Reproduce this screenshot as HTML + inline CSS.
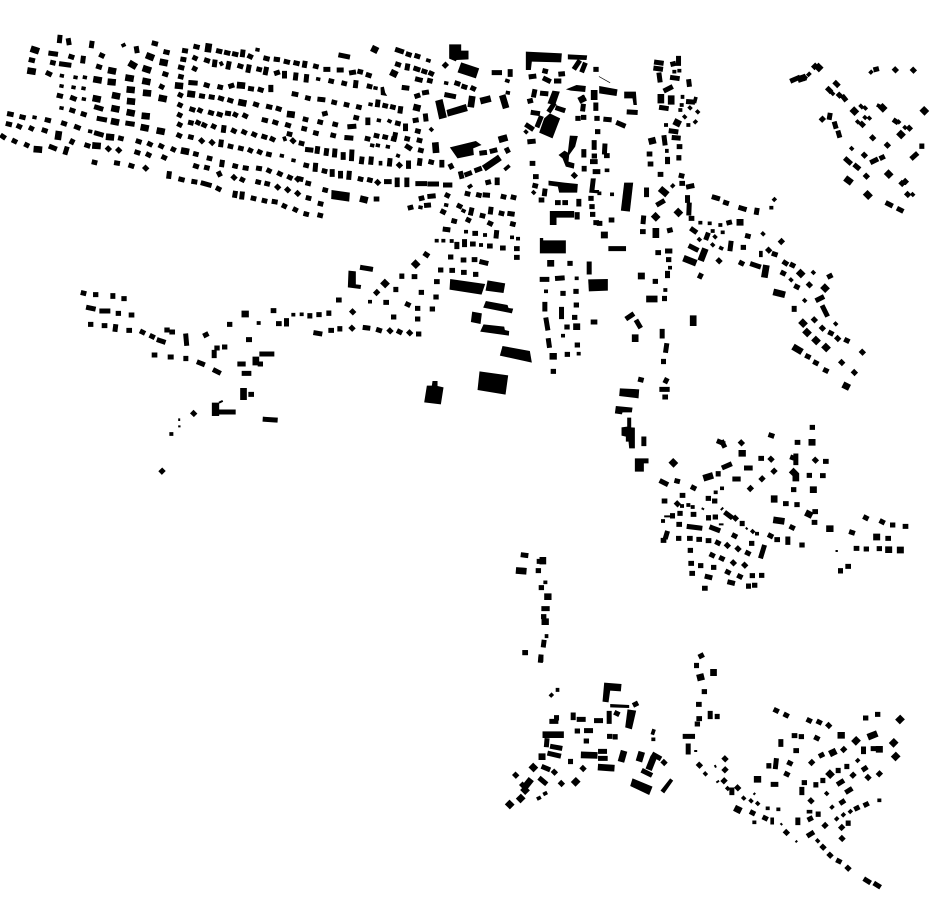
<!DOCTYPE html>
<html><head><meta charset="utf-8"><title>Figure-ground map</title>
<style>
html,body{margin:0;padding:0;background:#fff}
svg{display:block}
path{fill:none;stroke:#000;stroke-linecap:square}
.t{stroke-width:6}.s{stroke-width:11}.m{stroke-width:15}.b{stroke-width:20}
polygon{fill:#000}
</style></head><body>
<svg width="930" height="924" viewBox="0 0 930 924" xmlns="http://www.w3.org/2000/svg">
<g transform="translate(-.8 30) scale(.3333)">
<path class="s" d="M774 59l2 .4M105 262l2 .4M272 304l2 .4M372 46l2 -1M666 100l1 2M228 142l2 .4M256 142l2 .4M222 172l2 .4M252 175l2 .4M253 207l2 .4M186 234l2 .4M186 168l2 .4M187 137l2 .4M847 377l2 .4M882 391l2 .4M856 325l1 3"/>
<path class="m" d="M208 32l1 6M182 22l-1 10M278 40l-1 7M412 56l1 6M465 40l4 1M500 66l4 1M556 62l3 .5M590 50l4 1M658 63l4 1M682 68l4 1M706 72l4 1M731 66l-1 8M752 79l2 1M800 85l4 1M831 88l4 .5M861 95l4 1M890 99l4 1M155 70l14 2M215 80l3 1M252 85l-1 8M307 76l2 1M96 90l4 1M160 98l2 .5M187 102l22 3M298 110l3 1M497 132l3 1M544 112l4 1M551 88l3 .5M587 84l1 .5M586 116l1 .5M622 91l3 1M647 96l-1 8M689 101l-2 10M722 108l3 1M749 111l-2 10M779 118l2 .5M801 118l-2 10M832 129l3 -1M856 130l0 8M890 135l-1 9M147 130l4 2M544 140l2 .5M487 170l1 .5M575 158l13 1M621 165l3 1M662 171l2 .5M695 168l3 -1M754 176l3 .5M783 179l3 1M815 172l0 7M885 192l5 1M180 197l4 1M220 204l5 2M543 195l1 .5M607 198l3 .5M636 201l3 .5M664 205l3 1M692 211l3 1M769 223l3 1M808 230l4 1M837 236l3 1M218 241l3 1M252 252l3 1M292 232l13 4M542 225l1 .5M578 238l3 1M602 241l1 .5M634 248l3 1M660 253l3 1M685 250l3 .5M708 254l1 .5M737 257l2 1M795 270l4 1M827 277l3 1M865 285l3 1M31 252l5 1M68 261l4 1M144 270l4 1M193 280l3 1M232 291l5 2M300 266l16 3M386 280l13 2M541 255l1 .5M541 284l1 .5M574 278l2 .5M596 278l1 .5M614 285l2 1M643 289l1 .5M674 293l-1 8M703 302l2 1M734 306l2 1M764 313l2 1M794 320l3 1M819 327l2 1M870 312l2 .5M881 332l1 1M27 282l4 1M59 289l2 1M96 295l1 .5M135 301l3 1M292 310l14 4M364 325l2 .5M417 334l3 1M451 342l2 1M485 348l2 1M522 358l1 .5M589 372l2 .5M630 385l2 .5M539 316l2 1M574 321l2 .5M607 332l1 1M638 337l1 1M666 336l-1 8M693 349l2 .5M724 355l2 .5M753 361l1 .5M781 366l1 .5M808 373l2 .5M10 319l3 2M45 333l2 1M82 345l1 .5M156 351l10 4M202 357l-3 10M219 334l-1 2M263 346l3 1M327 356l1 1M358 360l1 1M413 367l3 1M447 374l2 1M494 382l2 1M589 408l3 1M622 413l2 .5M669 397l-1 7M707 408l2 .5M738 414l3 .5M778 415l3 .5M809 422l1 .5M841 431l2 1M871 442l2 1M895 447l1 1M285 397l2 .5M352 399l3 .5M395 407l3 1M439 414l1 1M510 431l-1 8M545 448l4 1M584 455l3 .5M612 460l18 5M657 476l2 1M660 431l1 2M704 442l1 1M729 449l1 .5M776 456l2 .5M803 461l2 .5M835 471l1 1M865 479l1 1M895 490l1 1M708 490l-1 6M729 492l-1 9M762 505l2 .5M795 512l2 .5M825 515l3 .5M855 528l1 .5M888 539l1 .5"/>
<path class="b" d="M104 59l6 2M628 50l-1 7M398 103l5 3M440 117l6 2M450 79l5 2M94 123l6 1M292 149l6 1M335 156l5 .5M388 144l6 1M439 154l5 1M537 167l5 .5M723 166l5 .5M290 206l5 1M348 197l5 1M392 179l5 .5M441 189l5 .5M393 214l5 .5M488 205l5 1M574 192l4 .5M727 218l5 1M873 253l4 .5M346 236l5 1M392 248l5 1M437 258l5 .5M345 275l5 1M434 293l5 1M482 303l5 1M330 321l5 .5M555 363l5 1M113 358l6 .5M178 313l-1 7M289 347l6 .5M336 122l5 1M491 97l5 1"/>
</g>
<g transform="translate(299.2 30) scale(.3333)">
<polygon points="450,43 486,43 486,62 508,62 508,88 472,90 470,94 450,86"/>
<polygon points="486,97 540,115 530,145 475,127"/>
<polygon points="408,213 430,207 443,262 420,268"/>
<polygon points="442,240 500,222 506,243 446,260"/>
<polygon points="452,352 530,333 547,345 522,355 524,375 475,385"/>
<polygon points="680,65 788,70 786,97 698,95 695,120 680,120"/>
<polygon points="806,73 864,76 862,90 806,88"/>
<polygon points="735,265 752,250 783,265 760,325 720,308"/>
<polygon points="752,543 825,543 825,563 772,563 772,585 752,585"/>
<polygon points="748,452 795,458 836,462 834,488 780,488 776,470 748,466"/>
<polygon points="800,178 832,165 860,168 858,186 815,182"/>
<polygon points="760,182 782,185 768,225 745,220"/>
<polygon points="812,317 836,318 828,350 810,375 808,395 826,400 824,416 800,410 790,385 778,375 796,362 806,368"/>
<polygon points="97,480 152,488 150,515 96,507"/>
<polygon points="244,172 254,170 258,188 264,198 245,195"/>
<polygon points="875,445 890,445 886,480 900,480 898,490 870,488"/>
<path class="s" d="M386 91l3 1M440 159l2 .4M396 298l1 1M228 174l2 .4M238 271l2 .4M270 273l2 1M218 346l2 .4M235 346l2 .4M265 350l2 .4M296 377l1 .4M56 147l2 .4M213 223l2 .4M511 470l3 -2M363 532l2 .4M440 525l2 .4M492 542l2 1M703 487l1 1M244 398l0 3M623 152l3 1M625 188l2 .4M680 305l1 1M627 410l-7 6"/>
<path class="m" d="M125 76l20 4M295 60l12 4M327 73l3 1M353 78l3 1M295 103l3 1M325 108l-1 6M350 116l6 2M374 124l3 1M395 130l2 1M355 148l8 2M391 152l2 .5M315 173l8 1M439 105l-1 1M473 160l3 1M494 170l3 1M521 175l2 1M443 195l20 4M376 188l6 -1M353 198l3 -1M348 271l3 -.5M379 258l1 9M355 303l2 .5M319 288l0 8M323 326l2 .5M360 331l2 .5M325 350l6 4M364 361l2 .5M362 392l-1 8M395 396l2 .5M428 397l0 8M455 408l1 2M624 360l1 2M548 369l8 -1M579 363l8 -2M533 420l8 -3M503 433l8 -3M485 431l2 8M566 457l2 -.5M594 450l0 8M504 491l2 .5M538 495l2 .5M558 495l7 .5M612 500l2 .5M642 502l2 .5M356 461l20 0M392 462l20 0M439 465l13 0M444 496l1 .5M392 499l10 -1M366 505l2 -.5M382 526l6 -.5M333 533l2 -.5M480 528l2 1M517 540l-2 9M549 557l2 .5M575 538l-1 8M606 550l2 .5M632 551l7 1M431 545l2 1M464 573l2 .5M507 570l1 .5M572 580l2 1M640 582l2 .5M585 128l16 0M633 125l0 8M17 100l-1 6M49 109l2 .5M80 118l6 0M120 120l6 0M157 128l6 -1M182 125l2 .5M207 135l3 1M22 140l-1 10M95 153l2 .5M134 160l2 .5M170 158l-1 9M210 169l2 .5M25 204l2 .5M62 208l9 1M104 217l2 .5M141 224l2 .5M178 231l2 .5M236 216l-1 8M257 227l2 .5M280 231l2 .5M304 236l-1 7M76 251l2 -.5M18 268l2 .5M62 276l2 .5M107 283l2 .5M170 263l2 .5M152 290l12 -1M206 270l0 8M295 280l2 .5M14 296l2 .5M49 309l2 .5M101 316l2 .5M143 323l12 1M204 326l2 .5M231 317l2 .5M257 321l2 .5M283 327l2 .5M288 314l-1 5M6 340l2 .5M25 359l10 1M55 356l-1 8M82 362l-1 8M107 363l-1 12M132 374l0 8M158 366l-1 20M188 387l-1 8M216 387l-1 10M272 392l-1 10M300 405l1 1M328 399l0 10M20 406l2 .5M49 406l-1 12M75 423l2 .5M99 425l0 8M124 430l0 8M150 430l-1 12M183 447l2 .5M211 450l2 .5M235 457l1 1M262 455l8 0M294 450l0 14M323 450l0 14M3 447l2 .5M26 460l2 .5M77 480l2 .5M231 507l2 0M27 504l2 .5M63 521l2 .5M20 552l2 .5M62 556l2 .5M696 140l8 -1M737 123l2 .5M785 132l5 -.5M738 147l10 5M772 153l7 0M706 185l-2 10M730 190l10 1M692 213l2 -.5M702 248l13 2M724 265l-8 20M685 287l12 8M692 335l10 -1M699 400l2 0M709 440l2 0M707 467l2 .5M737 483l-1 8M726 510l2 0M775 518l2 0M797 518l2 0M839 514l0 8M834 554l0 7M825 436l1 1M854 365l0 10M855 415l0 2M885 338l0 14M885 378l1 0M880 395l8 0M888 425l8 0M875 505l1 0M878 530l1 0M880 553l1 0M890 578l2 0M852 229l-1 8M850 205l1 1M853 262l1 0M836 265l1 0M890 118l1 0M890 225l0 10M893 265l1 0M895 305l1 0M828 112l10 -15M850 120l6 -15M776 235l15 5M752 240l10 -15"/>
<path class="b" d="M226 58l1 .5M283 130l2 1M352 233l2 .5M409 347l1 12M518 208l-2 14M553 211l12 -3M612 205l6 20M608 327l7 -2M562 410l32 -22M192 508l4 1M885 190l0 10M848 208l2 -1"/>
</g>
<g transform="translate(599.2 40) scale(.3333)">
<polygon points="75,428 102,428 92,515 65,512"/>
<polygon points="75,155 110,155 113,195 103,195 100,175 75,175"/>
<polygon points="0,138 55,148 52,168 0,160"/>
<path d="M0 110L32 128" style="stroke-width:2"/>
<path class="s" d="M250 170l0 1M243 210l1 0M247 195l1 0M289 176l-2 8M272 203l1 1M295 215l1 1M256 230l1 1M289 245l-1 1M267 255l1 0M200 255l1 0M203 332l0 1M220 438l1 -1M303 548l1 0M331 550l1 0M363 555l1 0M340 573l1 0M370 577l1 0M300 598l1 1M347 590l1 1M491 581l1 1M516 503l1 0M525 479l1 -1M22 391l3 0M38 463l1 0M0 460l1 0M757 325l1 1M815 97l1 -1M630 102l-2 2M700 160l1 1M785 198l3 3M797 203l2 2M810 234l1 1M797 232l1 1M775 245l1 1M838 197l2 1M898 245l1 1M917 262l1 1M940 463l1 1M240 92l1 0M225 95l1 0"/>
<path class="m" d="M172 67l14 2M170 85l14 2M180 105l2 15M221 72l2 -.5M238 55l0 15M220 113l14 2M269 125l1 8M200 150l14 -7M185 170l0 12M187 203l14 2M268 185l12 1M216 273l14 2M225 293l12 1M195 293l2 16M240 320l2 0M150 342l2 0M239 353l0 1M205 358l0 7M153 372l2 0M183 403l2 0M246 407l2 .5M248 430l2 0M268 440l10 -2M178 492l12 -7M265 473l0 8M270 495l-1 24M133 534l-1 11M276 535l2 0M389 548l2 -.5M130 575l2 0M211 571l2 -.5M280 569l7 5M325 585l-3 8M445 588l2 .5M473 511l-1 6M425 504l10 3M379 488l3 1M345 472l10 3M176 638l2 0M205 633l7 0M20 238l10 1M58 250l14 6M90 216l18 1M17 318l-1 18M22 347l2 0M36 540l2 0M0 550l2 0M35 626l38 0M142 450l0 14M580 121l16 -7M615 112l1 1M646 80l2 -2M688 148l4 4M710 130l4 4M720 165l1 1M733 172l4 5M788 252l2 2M830 88l2 -.5M888 89l1 1M942 90l1 1M669 238l1 -1M692 226l-1 6M707 252l2 7M718 279l2 7M742 359l9 8M770 378l6 5M820 365l10 -5M848 353l2 -1M820 293l1 1M864 315l1 1M968 318l0 1M941 352l9 -8M795 345l1 1M801 408l1 1M888 243l3 2M908 430l1 1M918 424l1 1M925 463l1 1M866 491l8 4M900 508l6 3M930 264l1 1"/>
<path class="b" d="M158 303l2 -.5M185 172l0 8M216 176l0 8M233 248l2 1M190 452l7 6M237 517l1 1M169 530l1 1M170 574l0 10M422 547l1 0M15 585l1 0M658 82l1 1M765 213l1 1M850 203l1 1M975 212l1 1M905 283l1 1M868 402l1 1M746 420l4 3M805 464l2 2M605 116l6 -2"/>
</g>
<g transform="translate(419.2 220) scale(.3333)">
<polygon points="93,177 198,192 187,224 91,209"/>
<polygon points="205,181 258,190 253,219 199,212"/>
<polygon points="200,243 265,255 268,264 282,266 278,280 192,263"/>
<polygon points="159,275 188,280 184,312 155,306"/>
<polygon points="193,313 255,320 257,330 270,333 269,347 183,335"/>
<polygon points="250,378 332,393 338,428 242,407"/>
<polygon points="181,454 267,466 259,524 175,510"/>
<polygon points="40,483 55,483 55,498 73,502 65,553 15,547 23,497 38,497"/>
<polygon points="362,54 372,54 372,61 440,61 440,100 362,100"/>
<polygon points="507,178 566,177 566,212 509,214"/>
<path class="s" d="M140 35l1 0M197 45l1 0M278 52l1 0M296 56l1 0M52 62l1 0M72 62l1 0M97 63l1 0M185 75l1 0M380 214l1 0M472 175l1 0M431 347l1 0M738 210l1 0M478 401l1 0M752 143l1 0"/>
<path class="m" d="M78 28l8 1M167 40l2 0M232 38l-1 10M113 73l0 7M136 65l0 9M160 72l2 0M211 78l2 0M250 84l2 0M292 86l2 0M292 112l2 0M20 103l3 2M94 111l1 0M132 120l2 0M165 119l2 0M188 126l12 3M64 150l1 0M98 151l2 0M133 157l2 0M169 163l1 0M52 185l2 0M6 217l1 0M50 231l1 0M39 267l1 0M452 130l1 0M510 132l0 24M369 178l14 0M415 175l14 -1M431 220l1 0M470 214l1 0M377 253l0 14M471 255l1 0M427 268l0 22M466 292l1 0M381 300l4 24M443 321l1 0M388 362l2 14M474 375l1 0M444 403l1 0M402 454l1 0M748 119l1 0M745 160l0 7M708 184l1 0M736 235l0 1M729 334l0 14M742 377l-2 14M733 424l0 1M626 293l12 -8M654 306l7 12M522 306l5 0"/>
<path class="b" d="M394 130l1 0M472 320l1 0M401 409l2 0M666 168l1 0M691 237l14 0M648 353l0 3"/>
</g>
<g transform="translate(679.2 240) scale(.3333)">
<path class="s" d="M100 14l1 1M125 24l2 1M245 38l0 8M402 97l1 1M335 119l1 1M376 181l1 1M469 251l1 1"/>
<path class="m" d="M35 20l16 8M155 10l-2 16M119 62l1 1M63 109l1 -2M186 69l2 1M220 73l18 6M311 99l2 1M317 68l3 2M339 75l2 1M285 42l3 1M268 30l1 1M306 5l1 -1M192 22l1 0M451 109l2 -1M352 140l2 1M390 134l1 1M416 179l12 -6M432 203l10 20M345 205l0 3M405 239l1 1M429 264l1 1M454 279l2 1M475 295l1 1M502 301l2 1M385 349l2 1M409 368l2 1M439 391l2 1M487 367l1 1M525 397l1 1M549 336l1 1"/>
<path class="b" d="M75 35l-7 18M22 58l20 8M260 85l-3 18M364 100l1 1M437 144l1 1M292 158l16 4M42 236l0 12M371 249l1 1M383 277l1 1M410 301l1 1M440 322l1 1M350 325l10 6M500 438l2 1"/>
</g>
<g transform="translate(609.2 370) scale(.3333)">
<polygon points="54,143 66,143 66,172 77,173 77,235 60,235 58,215 50,215 50,200 37,197 37,172 54,170"/>
<polygon points="77,265 118,265 118,280 104,280 104,305 77,305"/>
<polygon points="32,55 90,58 88,85 30,78"/>
<polygon points="20,108 70,113 68,127 40,127 38,133 17,130"/>
<path class="t" d="M280 416l2 1M337 418l3 -3M412 475l1 1M682 543l1 0M168 439l14 0M332 463l8 0"/>
<path class="s" d="M338 355l1 0M237 405l1 0M250 411l1 0M218 408l1 0M430 484l1 1M443 491l1 0M161 453l1 0M319 367l1 0"/>
<path class="m" d="M94 29l2 .5M171 31l-1 2M158 58l16 0M167 81l2 0M104 207l0 14M158 335l12 6M203 333l2 .5M252 353l2 1M327 311l0 1M345 291l16 -7M396 218l1 1M330 215l10 4M340 218l4 8M485 196l3 1M609 172l1 0M564 217l2 0M455 265l2 0M485 267l1 1M560 258l0 20M550 263l8 3M618 270l1 1M649 274l2 0M412 294l11 0M494 304l1 -1M600 316l1 0M640 317l2 0M377 327l10 0M458 327l1 -1M423 356l1 -1M553 359l1 0M219 376l2 0M297 385l1 0M316 393l1 0M165 393l2 0M204 401l1 1M352 431l12 9M378 444l1 1M529 401l2 0M563 404l1 0M617 425l2 0M615 457l2 0M548 472l2 1M727 487l3 1M399 460l0 1M483 497l2 1M503 509l2 0M536 507l0 10M578 525l1 0M190 437l0 1M212 430l1 0M252 433l2 0M298 443l0 1M318 441l1 0M209 463l2 0M240 470l32 4M308 473l18 7M173 490l-3 10M162 511l2 0M208 505l1 0M241 505l2 0M269 508l2 0M297 512l2 0M325 518l2 1M354 526l1 1M386 536l1 1M415 549l2 1M375 497l2 1M427 520l1 0M464 532l-8 26M243 541l1 0M308 555l2 1M337 565l2 1M372 578l1 1M406 585l1 1M245 580l2 0M274 587l1 0M313 592l1 0M355 606l2 1M391 619l2 1M429 617l1 0M457 616l1 0M248 610l2 0M294 620l8 2M362 637l8 2M286 655l2 0M418 648l0 1M436 646l1 0M769 443l2 1M818 455l2 1M850 465l1 0M888 469l2 0M836 505l2 0M741 535l2 0M771 537l1 0M810 536l1 0M694 602l0 1M716 589l2 0"/>
<path class="b" d="M192 278l1 1M292 322l10 -3M398 250l2 0M608 217l1 0M495 386l0 2M553 307l3 3M560 320l0 4M612 359l1 0M598 432l2 1M502 451l14 2M661 476l2 0M802 501l1 0M838 539l1 0M873 540l1 0"/>
</g>
<g transform="translate(499.2 545) scale(.3333)">
<path class="s" d="M138 112l1 0M142 273l0 1"/>
<path class="m" d="M72 30l8 1M120 49l1 0M117 77l1 0M126 128l1 0M134 191l10 0M133 215l1 0M134 292l-1 8M77 323l2 0M125 336l-1 10"/>
<path class="b" d="M131 46l0 2M60 77l12 1M145 155l2 0M137 230l2 0"/>
</g>
<g transform="translate(499.2 650) scale(.3333)">
<polygon points="315,98 367,102 365,124 333,122 328,157 310,155"/>
<polygon points="385,178 411,182 398,238 378,232"/>
<polygon points="400,385 460,410 450,435 393,408"/>
<polygon points="513,385 522,392 495,430 484,422"/>
<polygon points="333,162 390,165 390,174 333,172"/>
<path class="s" d="M175 119l0 1M156 136l1 -1M118 445l2 -1M137 431l2 -1M463 243l-2 6M462 268l1 0"/>
<path class="m" d="M77 8l1 0M125 27l0 1M408 163l2 -1M330 190l0 24M352 190l2 1M292 212l12 0M222 195l0 8M240 208l12 0M158 214l12 0M172 203l0 1M143 272l-1 12M160 290l22 4M152 311l26 6M134 352l12 5M165 366l1 1M49 375l1 1M125 388l12 10M70 405l1 1M186 400l1 1M214 334l0 1M251 355l1 1M234 243l1 0M262 242l12 0M261 273l1 0M331 259l1 0M348 260l0 1M304 304l12 0M304 325l14 0M465 315l14 8M494 337l1 1M434 364l18 9"/>
<path class="b" d="M140 254l44 0M128 320l1 0M102 352l1 1M90 395l-8 10M77 420l1 1M229 396l1 -1M64 446l1 -1M31 463l1 1M255 315l30 1M306 352l30 2M372 312l-4 14M425 315l-3 10M460 330l-8 20"/>
</g>
<g transform="translate(679.2 650) scale(.3333)">
<path class="t" d="M48 303l3 0M108 348l1 2M114 396l3 -2M225 432l1 -1M306 522l1 1M351 575l1 -1"/>
<path class="s" d="M78 371l1 1M145 415l1 1M193 444l1 1M215 452l1 1M235 460l1 1M265 475l1 0M297 478l1 0M225 517l1 0M279 508l0 10M388 485l6 0M442 430l1 1M458 472l1 -1M472 507l1 -1M492 495l1 -1M513 485l1 -1M600 451l1 0M535 332l1 -1M415 572l1 1"/>
<path class="m" d="M65 18l2 -1M52 46l0 1M75 125l1 0M58 163l2 0M114 199l0 1M18 259l22 0M27 288l0 18M60 345l1 1M137 360l1 -1M134 393l1 -1M158 420l0 8M175 413l1 1M219 488l2 1M257 504l2 1M321 547l1 1M290 181l2 1M320 195l2 1M389 211l2 1M419 216l2 1M448 226l1 1M559 204l1 0M595 193l1 0M555 357l3 -2M503 349l0 1M521 376l1 -1M477 361l0 1M431 391l0 1M410 404l0 1M375 398l1 0M368 418l0 10M480 400l8 -5M505 424l8 -5M395 452l1 1M488 457l3 -2M305 275l0 8M345 257l2 0M366 260l1 0M412 264l2 1M350 302l2 0M331 339l2 1M291 332l-2 18M269 347l0 1M322 372l2 1M282 403l8 0M397 338l1 -1M426 316l2 -1M493 299l1 -1M553 297l0 8M582 296l1 0M560 464l2 -1M532 475l2 -1M507 519l0 1M487 533l1 -1M488 565l1 1M437 527l1 -1M390 555l8 -5M431 591l1 1M452 615l1 1M478 633l2 1M506 654l1 1M560 690l8 5M590 703l8 5M417 492l0 1M392 507l2 -1M356 510l0 8M137 326l1 1M59 206l2 0M54 222l1 0M600 372l1 -1M566 382l1 1M93 190l0 10"/>
<path class="b" d="M63 82l2 -.5M103 67l0 1M175 478l2 1M485 256l2 0M530 273l1 -1M575 258l10 -4M662 209l1 -1M643 279l1 -1M649 320l1 -1M452 372l1 1M234 388l2 0M460 308l2 -1M600 298l1 0"/>
</g>
<g transform="translate(59.2 250) scale(.3333)">
<polygon points="868,62 890,64 890,103 906,105 904,117 866,112"/>
<polygon points="458,458 480,458 480,498 458,498"/>
<path class="t" d="M360 510l0 -2M360 529l1 0M482 457l6 -3"/>
<path class="s" d="M702 194l1 0M727 193l1 0M932 155l1 0M336 552l1 0M598 219l1 0"/>
<path class="m" d="M72 129l2 .5M109 134l1 0M161 137l0 2M194 146l1 0M88 173l14 3M128 183l18 0M177 190l1 0M216 195l2 0M94 223l1 0M135 227l2 0M169 230l-1 8M209 241l2 0M249 246l2 1M278 259l2 1M300 271l12 4M323 240l1 0M338 246l2 0M380 258l2 22M439 255l2 -1M285 315l2 0M333 321l3 0M380 325l0 1M420 338l10 4M468 362l10 5M511 223l1 0M642 182l2 0M658 221l2 0M682 212l0 10M752 197l0 1M779 194l1 0M809 189l0 1M838 150l2 0M880 185l1 1M770 249l12 2M815 241l2 0M842 236l0 1M878 234l1 1M918 233l8 1M958 240l3 1M992 242l1 1M1020 245l2 1M1051 248l1 1M1078 252l1 0M473 294l1 0M496 291l1 0M465 307l0 10M608 312l30 0M603 342l1 0M542 342l10 0M555 370l14 0M575 433l2 0M482 486l40 0M403 490l1 1M308 664l1 -1M618 508l30 2M910 53l24 4M952 128l1 -1M980 157l2 0M1045 163l2 1M1075 175l1 0M1010 118l0 1M1028 78l0 1M1065 80l2 0M1003 201l1 0M1075 207l1 0M568 269l3 0"/>
<path class="b" d="M557 192l2 0M590 330l0 6M553 424l0 16M977 100l1 1M1069 42l1 1"/>
</g>
</svg>
</body></html>
